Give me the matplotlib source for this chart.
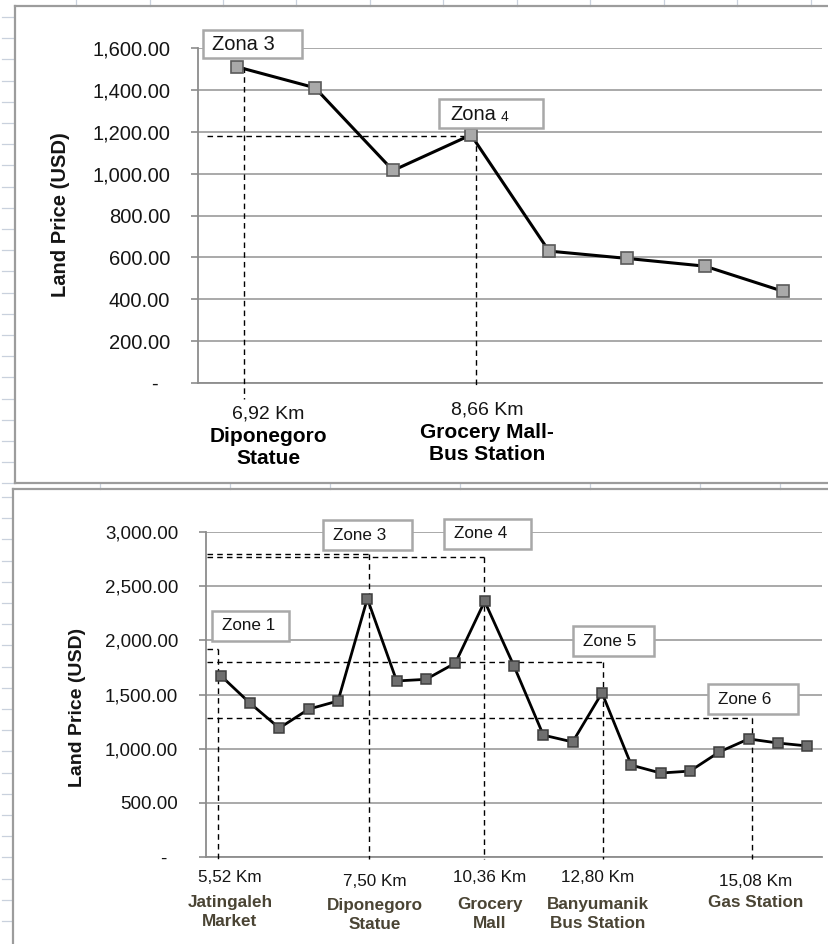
import matplotlib
matplotlib.use('Agg')
import matplotlib.pyplot as plt
from matplotlib.patches import Rectangle
from matplotlib.lines import Line2D
from matplotlib.ticker import FixedLocator, FuncFormatter

plt.rcParams['font.family'] = ['Liberation Sans', 'DejaVu Sans']

# ---------------- data ----------------
top_prices = [1510, 1410, 1015, 1185, 630, 595, 558, 438]
top_yticks = [0, 200, 400, 600, 800, 1000, 1200, 1400, 1600]
top_zone_names = ['Zona 3', 'Zona 4']
top_zone_pos = [0.09, 3.06]
top_zone_level = [1510, 1182]
top_zone_hline = [False, True]
top_zone_km = ['6,92 Km', '8,66 Km']
top_zone_places = ['Diponegoro\nStatue', 'Grocery Mall-\nBus Station']

bottom_prices = [1675, 1420, 1190, 1365, 1440, 2385, 1625, 1640, 1790, 2360, 1762,
                 1125, 1062, 1515, 848, 775, 793, 970, 1090, 1052, 1025]
bottom_yticks = [0, 500, 1000, 1500, 2000, 2500, 3000]
bottom_zone_names = ['Zone 1', 'Zone 3', 'Zone 4', 'Zone 5', 'Zone 6']
bottom_zone_pos = [-0.09, 5.05, 8.98, 13.03, 18.11]
bottom_zone_level = [1920, 2800, 2770, 1800, 1280]
bottom_zone_km = ['5,52 Km', '7,50 Km', '10,36 Km', '12,80 Km', '15,08 Km']
bottom_zone_places = ['Jatingaleh\nMarket', 'Diponegoro\nStatue', 'Grocery\nMall',
                      'Banyumanik\nBus Station', 'Gas Station']

# ---------------- layout helpers ----------------
W, H = 829, 944
fig = plt.figure(figsize=(W / 100, H / 100), dpi=100)
fig.patch.set_facecolor('white')


def fx(x):
    return x / W


def fy(y):
    return 1 - y / H


def add_ax(left, top, right, bottom):
    return fig.add_axes([fx(left), fy(bottom), (right - left) / W, (bottom - top) / H])


def money(v, pos=None):
    return '-  ' if v == 0 else f'{v:,.2f}'


GRID = '#a3a3a3'
TXT = '#151515'

# ---------------- sheet decoration ----------------
deco = '#c9d1dd'
for k in range(23):
    y = 17 + 21.2 * k
    fig.add_artist(Line2D([fx(2), fx(14)], [fy(y), fy(y)], color=deco, lw=0.9))
for k in range(21):
    y = 497 + 21.2 * k
    if y < H:
        fig.add_artist(Line2D([fx(2), fx(12)], [fy(y), fy(y)], color=deco, lw=0.9))
for k in range(11):
    x = 76 + 73.5 * k
    fig.add_artist(Line2D([fx(x), fx(x)], [fy(0), fy(6)], color=deco, lw=0.9))
for x in [100, 230, 330, 460, 590, 700, 780]:
    fig.add_artist(Line2D([fx(x), fx(x)], [fy(483), fy(489)], color=deco, lw=0.9))

BORDER = '#9c9c9c'
fig.add_artist(Line2D([fx(15), fx(15)], [fy(6), fy(483)], color=BORDER, lw=1.6))
fig.add_artist(Line2D([fx(15), fx(W)], [fy(6), fy(6)], color=BORDER, lw=1.6))
fig.add_artist(Line2D([fx(15), fx(W)], [fy(483), fy(483)], color=BORDER, lw=1.6))
fig.add_artist(Line2D([fx(13), fx(W)], [fy(489), fy(489)], color=BORDER, lw=1.6))
fig.add_artist(Line2D([fx(13), fx(13)], [fy(489), fy(H)], color=BORDER, lw=1.6))


def style_axes(ax, yticks, fs):
    ax.set_facecolor('none')
    for s in ['top', 'right']:
        ax.spines[s].set_visible(False)
    for s in ['left', 'bottom']:
        ax.spines[s].set_color('#8c8c8c')
        ax.spines[s].set_linewidth(1.3)
    ax.yaxis.set_major_locator(FixedLocator(yticks))
    ax.yaxis.set_major_formatter(FuncFormatter(money))
    ax.set_ylim(yticks[0], yticks[-1])
    ax.grid(axis='y', color=GRID, lw=1.3)
    ax.set_axisbelow(True)
    ax.tick_params(axis='y', length=5, width=1.2, color='#8c8c8c', labelsize=fs,
                   labelcolor=TXT, pad=15)
    ax.tick_params(axis='x', length=0, labelbottom=False)


def zone_box(x0, y0, x1, y1):
    fig.add_artist(Rectangle((fx(x0), fy(y1)), (x1 - x0) / W, (y1 - y0) / H,
                             transform=fig.transFigure, facecolor='white',
                             edgecolor='#a8a8a8', lw=1.8, zorder=5))


DASH = (0, (4, 3))

# ---------------- top chart ----------------
ax1 = add_ax(198, 48, 822, 383)
style_axes(ax1, top_yticks, 14.5)
ax1.set_xlim(-0.5, len(top_prices) - 0.5)
ax1.plot(range(len(top_prices)), top_prices, color='black', lw=2.2, marker='s',
         markersize=8, markerfacecolor='#a9a9a9', markeredgecolor='#5a5a5a',
         markeredgewidth=1.2, zorder=4)
top_bottoms = [-78, -24]
for pos, lev, hl, yb in zip(top_zone_pos, top_zone_level, top_zone_hline, top_bottoms):
    ax1.plot([pos, pos], [lev, yb], color='black', lw=1.0, ls=DASH, clip_on=False, zorder=3)
    if hl:
        ax1.plot([-0.385, pos], [lev, lev], color='black', lw=1.0, ls=DASH, zorder=3)

fig.text(fx(61), fy(215), 'Land Price (USD)', rotation=90, ha='center', va='center',
         fontsize=14.5, fontweight='bold', color=TXT)

# top boxes
zone_box(203, 30, 302, 58)
fig.text(fx(212), fy(45), top_zone_names[0], fontsize=14.5, va='center', ha='left',
         color=TXT, zorder=6)
zone_box(439, 99, 543, 128)
zn, zd = top_zone_names[1].split(' ')
fig.text(fx(450), fy(115), zn, fontsize=14.5, va='center', ha='left', color=TXT, zorder=6)
fig.text(fx(501), fy(117), zd, fontsize=10, va='center', ha='left', color=TXT, zorder=6)

# top x labels
top_lab_x = [268, 487]
top_km_y = [414, 410]
for x, ky, km, pl in zip(top_lab_x, top_km_y, top_zone_km, top_zone_places):
    fig.text(fx(x), fy(ky), km, fontsize=14, ha='center', va='center', color=TXT)
    fig.text(fx(x), fy(ky + 13), pl, fontsize=15, fontweight='bold', ha='center',
             va='top', color='black', linespacing=1.2)

# ---------------- bottom chart ----------------
ax2 = add_ax(206, 532, 822, 857)
style_axes(ax2, bottom_yticks, 13.5)
ax2.set_xlim(-0.5, len(bottom_prices) - 0.5)
ax2.plot(range(len(bottom_prices)), bottom_prices, color='black', lw=2.0, marker='s',
         markersize=7, markerfacecolor='#6f6f6f', markeredgecolor='#3e3e3e',
         markeredgewidth=1.1, zorder=4)
for pos, lev in zip(bottom_zone_pos, bottom_zone_level):
    ax2.plot([pos, pos], [lev, -20], color='black', lw=1.0, ls=DASH, clip_on=False, zorder=3)
    ax2.plot([-0.47, pos], [lev, lev], color='black', lw=1.0, ls=DASH, zorder=3)

fig.text(fx(78), fy(707), 'Land Price (USD)', rotation=90, ha='center', va='center',
         fontsize=14, fontweight='bold', color=TXT)

bottom_boxes = [(212, 611, 289, 641), (323, 520, 412, 550), (444, 519, 531, 549),
                (573, 626, 654, 656), (708, 684, 798, 714)]
for (x0, y0, x1, y1), name in zip(bottom_boxes, bottom_zone_names):
    zone_box(x0, y0, x1, y1)
    fig.text(fx(x0 + 10), fy((y0 + y1) / 2), name, fontsize=12.3, va='center', ha='left',
             color=TXT, zorder=6)

bot_lab_x = [230, 375, 490, 598, 756]
bot_km_y = [878, 881, 877, 877, 881]
bot_pl_y = [895, 898, 897, 897, 895]
for x, ky, py, km, pl in zip(bot_lab_x, bot_km_y, bot_pl_y, bottom_zone_km, bottom_zone_places):
    fig.text(fx(x), fy(ky), km, fontsize=12.3, ha='center', va='center', color=TXT)
    fig.text(fx(x), fy(py), pl, fontsize=12.3, fontweight='bold', ha='center',
             va='top', color='#4a4434', linespacing=1.3)

fig.savefig('out.png', dpi=100, facecolor='white')
